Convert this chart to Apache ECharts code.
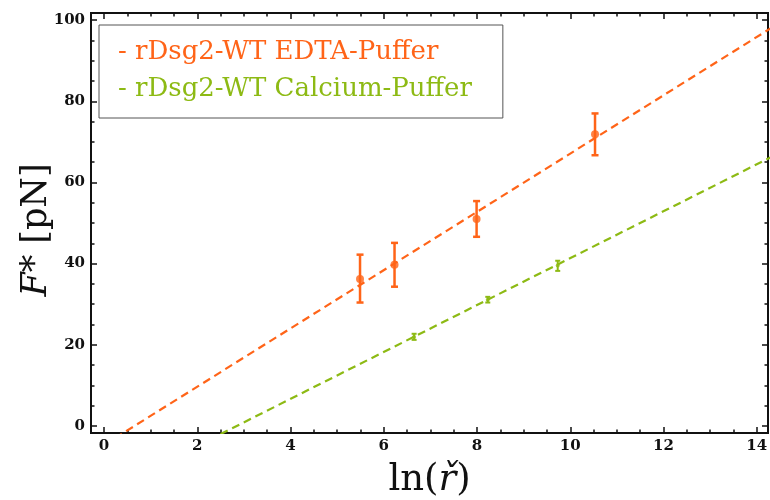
<!DOCTYPE html>
<html>
<head>
<meta charset="utf-8">
<script src="https://cdn.jsdelivr.net/npm/echarts@6/dist/echarts.min.js"></script>
<style>
  html, body { margin: 0; padding: 0; background: #fff; }
  #chart { width: 770px; height: 500px; }
</style>
</head>
<body>
<div id="chart"></div>
<script>
// Rupture force F* versus ln of the loading rate, two buffer conditions
const seriesNames = ['rDsg2-WT EDTA-Puffer', 'rDsg2-WT Calcium-Puffer'];

// Measured points: ln(r), F* [pN], lower and upper end of the error bar
const edtaX = [5.49, 6.23, 7.99, 10.53];
const edtaY = [36.2, 39.7, 51.0, 71.9];
const edtaLo = [30.4, 34.3, 46.6, 66.7];
const edtaHi = [42.2, 45.1, 55.4, 77.0];

const calciumX = [6.65, 8.23, 9.73];
const calciumY = [21.9, 31.1, 39.5];
const calciumLo = [21.2, 30.4, 38.2];
const calciumHi = [22.7, 31.8, 40.7];

// Linear fits, given by two points each (clipped by the plot frame)
const edtaFit = [[0, -4.7], [14.3, 98.0]];
const calciumFit = [[2, -4.9], [14.3, 66.2]];

// Tick labels
const xTickLabels = [0, 2, 4, 6, 8, 10, 12, 14];
const yTickLabels = [0, 20, 40, 60, 80, 100];

const orange = '#ff6418';
const green = '#8dba14';

const xMin = -0.28, xMax = 14.24;
const yMin = -1.75, yMax = 101.75;

const xMinorTicks = [];
for (let v = 0; v <= 14; v += 0.5) xMinorTicks.push(v);
const yMinorTicks = [];
for (let v = 0; v <= 100; v += 5) yMinorTicks.push(v);

const frameLine = { show: true, onZero: false, lineStyle: { color: '#111', width: 2 } };
const tickFont = { fontFamily: 'DejaVu Serif', fontWeight: 'bold', fontSize: 15, color: '#111' };

function axisDef(position, min, max, values, len, labels) {
  return {
    type: 'value', position: position, min: min, max: max,
    axisLine: frameLine,
    splitLine: { show: false },
    axisTick: { show: true, inside: true, length: len, customValues: values,
                lineStyle: { color: '#111', width: 1.5 } },
    axisLabel: labels
      ? Object.assign({ show: true, customValues: values, margin: 6 }, tickFont)
      : { show: false }
  };
}

const xAxes = [
  axisDef('bottom', xMin, xMax, xTickLabels, 6, true),
  axisDef('bottom', xMin, xMax, xMinorTicks, 3.5, false),
  axisDef('top', xMin, xMax, xTickLabels, 6, false),
  axisDef('top', xMin, xMax, xMinorTicks, 3.5, false)
];
xAxes[0].name = '{n|ln(}{i|ř}{n|)}';
xAxes[0].nameLocation = 'middle';
xAxes[0].nameGap = 29;
xAxes[0].nameMoveOverlap = false;
xAxes[0].nameTextStyle = {
  rich: {
    n: { fontFamily: 'DejaVu Serif', fontSize: 37, color: '#111' },
    i: { fontFamily: 'DejaVu Serif', fontStyle: 'italic', fontSize: 37, color: '#111' }
  }
};

const yAxes = [
  axisDef('left', yMin, yMax, yTickLabels, 6, true),
  axisDef('left', yMin, yMax, yMinorTicks, 3.5, false),
  axisDef('right', yMin, yMax, yTickLabels, 6, false),
  axisDef('right', yMin, yMax, yMinorTicks, 3.5, false)
];
yAxes[0].name = '{i|F}{n|* [pN]}';
yAxes[0].nameLocation = 'middle';
yAxes[0].nameRotate = 90;
yAxes[0].nameGap = 37;
yAxes[0].nameMoveOverlap = false;
yAxes[0].nameTextStyle = {
  padding: [0, 14, 0, 0],
  rich: {
    n: { fontFamily: 'DejaVu Serif', fontSize: 35, color: '#111' },
    i: { fontFamily: 'DejaVu Serif', fontStyle: 'italic', fontSize: 35, color: '#111' }
  }
};

function zip(xs, ys) { return xs.map((x, i) => [x, ys[i]]); }
function zipErr(xs, ys, lo, hi) { return xs.map((x, i) => [x, ys[i], lo[i], hi[i]]); }

function errorBars(color, cap, width) {
  return function (params, api) {
    const x = api.value(0);
    const top = api.coord([x, api.value(3)]);
    const bot = api.coord([x, api.value(2)]);
    const style = { stroke: color, lineWidth: width };
    return {
      type: 'group',
      children: [
        { type: 'line', shape: { x1: top[0], y1: top[1], x2: bot[0], y2: bot[1] }, style: style },
        { type: 'line', shape: { x1: top[0] - cap, y1: top[1], x2: top[0] + cap, y2: top[1] }, style: style },
        { type: 'line', shape: { x1: bot[0] - cap, y1: bot[1], x2: bot[0] + cap, y2: bot[1] }, style: style }
      ]
    };
  };
}

const chart = echarts.init(document.getElementById('chart'), null, { renderer: 'canvas' });
chart.setOption({
  animation: false,
  backgroundColor: '#fff',
  grid: { left: 91, right: 2, top: 13, bottom: 67, containLabel: false, outerBoundsMode: 'none' },
  xAxis: xAxes,
  yAxis: yAxes,
  legend: {
    orient: 'vertical',
    left: 99, top: 25,
    icon: 'none',
    itemWidth: 0, itemHeight: 10,
    itemGap: 8,
    padding: [13, 31, 14, 14],
    borderColor: '#555', borderWidth: 1, borderRadius: 0,
    backgroundColor: '#fff',
    formatter: '- {name}',
    textStyle: { fontFamily: 'DejaVu Serif', fontSize: 26, color: 'inherit', lineHeight: 29 },
    data: seriesNames
  },
  series: [
    {
      name: seriesNames[0], type: 'line', data: edtaFit, symbol: 'none',
      lineStyle: { color: orange, width: 2.2, type: [8, 5] }, itemStyle: { color: orange },
      clip: true, z: 2
    },
    {
      name: seriesNames[1], type: 'line', data: calciumFit, symbol: 'none',
      lineStyle: { color: green, width: 2.2, type: [8, 5] }, itemStyle: { color: green },
      clip: true, z: 2
    },
    {
      name: seriesNames[0], type: 'custom', data: zipErr(edtaX, edtaY, edtaLo, edtaHi),
      renderItem: errorBars(orange, 3.5, 2.5), z: 3
    },
    {
      name: seriesNames[1], type: 'custom', data: zipErr(calciumX, calciumY, calciumLo, calciumHi),
      renderItem: errorBars(green, 2.5, 2), z: 3
    },
    {
      name: seriesNames[0], type: 'scatter', data: zip(edtaX, edtaY), symbolSize: 8,
      itemStyle: { color: orange }, z: 4
    },
    {
      name: seriesNames[1], type: 'scatter', data: zip(calciumX, calciumY), symbolSize: 4,
      itemStyle: { color: green }, z: 4
    }
  ]
});
</script>
</body>
</html>
